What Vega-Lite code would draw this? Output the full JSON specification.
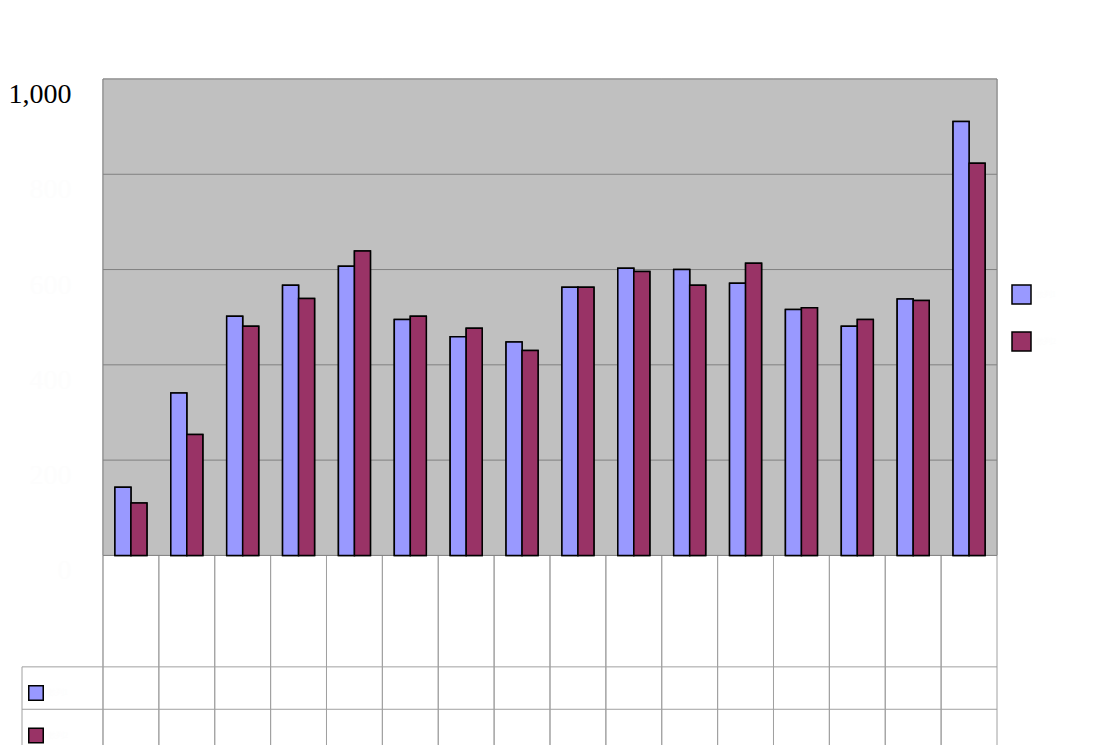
{
  "$schema": "https://vega.github.io/schema/vega-lite/v6.json",
  "width": 975,
  "height": 666,
  "autosize": {"type": "none"},
  "padding": {"left": 22, "top": 79, "right": 102, "bottom": 0},
  "background": "white",
  "config": {"view": {"stroke": null}, "font": "Liberation Serif"},
  "data": {"values": [
    {"cat": "01", "series": "數列1", "value": 143}, {"cat": "01", "series": "數列2", "value": 110},
    {"cat": "02", "series": "數列1", "value": 341}, {"cat": "02", "series": "數列2", "value": 254},
    {"cat": "03", "series": "數列1", "value": 502}, {"cat": "03", "series": "數列2", "value": 481},
    {"cat": "04", "series": "數列1", "value": 567}, {"cat": "04", "series": "數列2", "value": 539},
    {"cat": "05", "series": "數列1", "value": 607}, {"cat": "05", "series": "數列2", "value": 639},
    {"cat": "06", "series": "數列1", "value": 495}, {"cat": "06", "series": "數列2", "value": 502},
    {"cat": "07", "series": "數列1", "value": 459}, {"cat": "07", "series": "數列2", "value": 477},
    {"cat": "08", "series": "數列1", "value": 448}, {"cat": "08", "series": "數列2", "value": 430},
    {"cat": "09", "series": "數列1", "value": 563}, {"cat": "09", "series": "數列2", "value": 563},
    {"cat": "10", "series": "數列1", "value": 603}, {"cat": "10", "series": "數列2", "value": 596},
    {"cat": "11", "series": "數列1", "value": 600}, {"cat": "11", "series": "數列2", "value": 567},
    {"cat": "12", "series": "數列1", "value": 571}, {"cat": "12", "series": "數列2", "value": 613},
    {"cat": "13", "series": "數列1", "value": 516}, {"cat": "13", "series": "數列2", "value": 520},
    {"cat": "14", "series": "數列1", "value": 481}, {"cat": "14", "series": "數列2", "value": 495},
    {"cat": "15", "series": "數列1", "value": 538}, {"cat": "15", "series": "數列2", "value": 535},
    {"cat": "16", "series": "數列1", "value": 911}, {"cat": "16", "series": "數列2", "value": 823}
  ]},
  "layer": [
    {
      "layer": [
        {
          "mark": {"type": "rect", "fill": "#c0c0c0", "stroke": "#c0c0c0", "strokeWidth": 1},
          "encoding": {
            "x": {
              "field": "cat", "type": "nominal", "sort": null,
              "scale": {"type": "band", "paddingInner": 0, "paddingOuter": 0.7248, "align": 1},
              "axis": null
            },
            "y": {
              "datum": 0, "type": "quantitative",
              "scale": {"domain": [-398, 1000], "nice": false, "zero": false},
              "axis": {
                "values": [0, 200, 400, 600, 800, 1000], "format": ",d",
                "grid": false, "domain": false, "ticks": false, "tickSize": 0,
                "offset": -81, "labelPadding": 32,
                "labelFont": "Liberation Serif", "labelFontSize": 28,
                "labelBaseline": "alphabetic", "labelOffset": 23.5,
                "labelColor": {"condition": {"test": "datum.value == 1000", "value": "#000000"}, "value": "#fdfdfd"},
                "title": null
              }
            },
            "y2": {"datum": 1000}
          }
        },
        {
          "mark": {"type": "rule", "color": "#a0a0a0", "strokeWidth": 1},
          "encoding": {"x": {"field": "cat", "type": "nominal", "sort": null, "bandPosition": 0}, "y": {"datum": 0, "type": "quantitative"}, "y2": {"datum": -398}}
        },
        {
          "data": {"values": [{}]},
          "mark": {"type": "rule", "color": "#a0a0a0", "strokeWidth": 1},
          "encoding": {"x": {"datum": "16", "type": "nominal", "bandPosition": 1}, "y": {"datum": 0, "type": "quantitative"}, "y2": {"datum": -398}}
        },
        {
          "data": {"values": [{}]},
          "mark": {"type": "rule", "color": "#a0a0a0", "strokeWidth": 1},
          "encoding": {"y": {"datum": -234, "type": "quantitative"}}
        },
        {
          "data": {"values": [{}]},
          "mark": {"type": "rule", "color": "#a0a0a0", "strokeWidth": 1},
          "encoding": {"y": {"datum": -323, "type": "quantitative"}}
        },
        {
          "data": {"values": [{}]},
          "mark": {"type": "rule", "color": "#808080", "strokeWidth": 1},
          "encoding": {"x": {"datum": "01", "type": "nominal", "bandPosition": 0}, "x2": {"datum": "16", "bandPosition": 1}, "y": {"datum": 200, "type": "quantitative"}}
        },
        {
          "data": {"values": [{}]},
          "mark": {"type": "rule", "color": "#808080", "strokeWidth": 1},
          "encoding": {"x": {"datum": "01", "type": "nominal", "bandPosition": 0}, "x2": {"datum": "16", "bandPosition": 1}, "y": {"datum": 400, "type": "quantitative"}}
        },
        {
          "data": {"values": [{}]},
          "mark": {"type": "rule", "color": "#808080", "strokeWidth": 1},
          "encoding": {"x": {"datum": "01", "type": "nominal", "bandPosition": 0}, "x2": {"datum": "16", "bandPosition": 1}, "y": {"datum": 600, "type": "quantitative"}}
        },
        {
          "data": {"values": [{}]},
          "mark": {"type": "rule", "color": "#808080", "strokeWidth": 1},
          "encoding": {"x": {"datum": "01", "type": "nominal", "bandPosition": 0}, "x2": {"datum": "16", "bandPosition": 1}, "y": {"datum": 800, "type": "quantitative"}}
        },
        {
          "data": {"values": [{}]},
          "mark": {"type": "rule", "color": "#808080", "strokeWidth": 1},
          "encoding": {"x": {"datum": "01", "type": "nominal", "bandPosition": 0}, "x2": {"datum": "16", "bandPosition": 1}, "y": {"datum": 1000, "type": "quantitative"}}
        },
        {
          "data": {"values": [{}]},
          "mark": {"type": "rule", "color": "#808080", "strokeWidth": 1},
          "encoding": {"x": {"datum": "01", "type": "nominal", "bandPosition": 0}, "x2": {"datum": "16", "bandPosition": 1}, "y": {"datum": 0, "type": "quantitative"}}
        },
        {
          "data": {"values": [{}]},
          "mark": {"type": "rule", "color": "#808080", "strokeWidth": 1},
          "encoding": {"x": {"datum": "01", "type": "nominal", "bandPosition": 0}, "y": {"datum": 0, "type": "quantitative"}, "y2": {"datum": 1000}}
        },
        {
          "data": {"values": [{}]},
          "mark": {"type": "rule", "color": "#808080", "strokeWidth": 1},
          "encoding": {"x": {"datum": "16", "type": "nominal", "bandPosition": 1}, "y": {"datum": 0, "type": "quantitative"}, "y2": {"datum": 1000}}
        },
        {
          "mark": {"type": "bar", "stroke": "#000000", "strokeWidth": 1.5},
          "encoding": {
            "x": {"field": "cat", "type": "nominal", "sort": null},
            "xOffset": {"field": "series", "type": "nominal", "scale": {"paddingInner": 0, "paddingOuter": 0.746}},
            "y": {"field": "value", "type": "quantitative"},
            "fill": {
              "field": "series", "type": "nominal",
              "scale": {"domain": ["數列1", "數列2"], "range": ["#9999ff", "#993366"]},
              "legend": {"orient": "none", "legendX": 989, "legendY": 205, "title": null, "padding": 0, "symbolType": "square", "symbolSize": 361, "symbolStrokeColor": "#000000", "symbolStrokeWidth": 1.5, "labelColor": "#fdfdfd", "labelFontSize": 8, "rowPadding": 22}
            }
          }
        },
        {
          "mark": {"type": "bar", "stroke": "#000000", "strokeWidth": 1.5},
          "encoding": {
            "x": {"field": "cat", "type": "nominal", "sort": null},
            "xOffset": {"field": "series", "type": "nominal"},
            "y": {"field": "value", "type": "quantitative"},
            "fill": {
              "field": "series", "type": "nominal",
              "scale": {"domain": ["數列1", "數列2"], "range": ["#9999ff", "#993366"]},
              "legend": {"orient": "none", "legendX": 6, "legendY": 606, "title": null, "padding": 0, "symbolType": "square", "symbolSize": 210, "symbolStrokeColor": "#000000", "symbolStrokeWidth": 1.5, "labelColor": "#fdfdfd", "labelFontSize": 8, "rowPadding": 20.5}
            }
          }
        }
      ],
      "resolve": {"scale": {"fill": "independent"}}
    },
    {
      "data": {"values": [{}]},
      "mark": {"type": "rule", "color": "#a0a0a0", "strokeWidth": 1},
      "encoding": {
        "x": {"datum": 0, "type": "quantitative", "scale": {"domain": [0, 1], "nice": false, "zero": false}, "axis": null},
        "y": {"datum": -234, "type": "quantitative"},
        "y2": {"datum": -398}
      }
    }
  ],
  "resolve": {"scale": {"x": "independent"}}
}
